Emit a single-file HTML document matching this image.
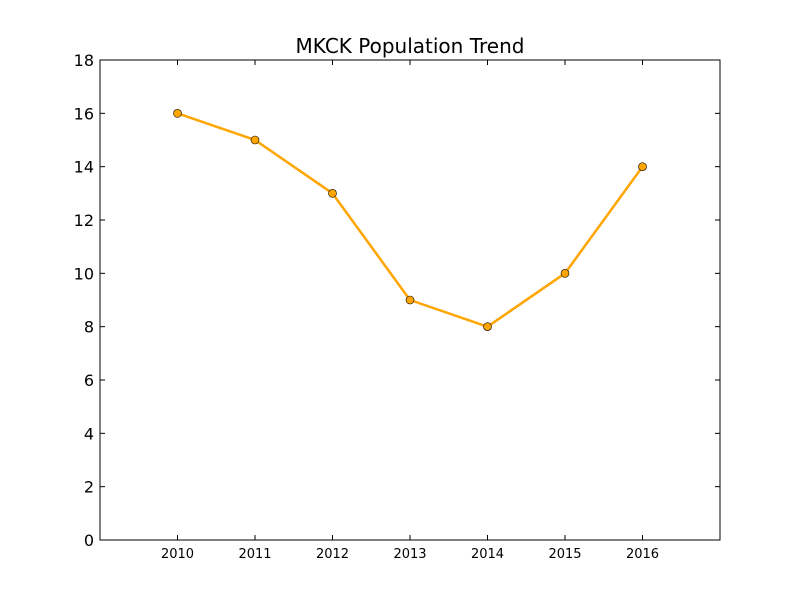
<!DOCTYPE html>
<html><head><meta charset="utf-8"><style>
body{margin:0;background:#fff;}
svg{display:block;font-family:"DejaVu Sans","Liberation Sans",sans-serif;}
</style></head><body>
<svg id="chart" width="800" height="600"></svg>
<script>
const years=[2010,2011,2012,2013,2014,2015,2016];
const population=[16,15,13,9,8,10,14];
const yTicks=[0,2,4,6,8,10,12,14,16,18];
const xTicks=[2010,2011,2012,2013,2014,2015,2016];
const L=100,R=720,T=60,B=540,xMin=2009,xMax=2017,yMin=0,yMax=18;
const xs=v=>L+(v-xMin)/(xMax-xMin)*(R-L);
const ys=v=>B-(v-yMin)/(yMax-yMin)*(B-T);
const svg=document.getElementById('chart');
const NS='http://www.w3.org/2000/svg';
function mk(t,a,txt){const e=document.createElementNS(NS,t);for(const k in a)e.setAttribute(k,a[k]);if(txt!==undefined)e.textContent=txt;svg.appendChild(e);return e;}
const bg=mk('rect',{x:0,y:0,width:800,height:600,fill:'#fff'});


const title=mk('text',{x:410,y:53,'text-anchor':'middle','font-size':20},'MKCK Population Trend');


yTicks.forEach(v=>{
  const y=ys(v);
  const t1=mk('line',{x1:L,x2:L+5,y1:y,y2:y,stroke:'#000'});
  
  
  const t2=mk('line',{x1:R,x2:R-5,y1:y,y2:y,stroke:'#000'});
  
  
  const lb=mk('text',{x:L-6,y:y+6,'text-anchor':'end','font-size':16},v);
  
  
});
xTicks.forEach(v=>{
  const x=xs(v);
  const t1=mk('line',{x1:x,x2:x,y1:B,y2:B-5,stroke:'#000'});
  
  
  const t2=mk('line',{x1:x,x2:x,y1:T,y2:T+5,stroke:'#000'});
  
  
  const lb=mk('text',{x:x,y:B+18,'text-anchor':'middle','font-size':13},v);
  
  
});
const line=mk('polyline',{points:years.map((y,i)=>xs(y)+','+ys(population[i])).join(' '),fill:'none',stroke:'#ffa500','stroke-width':2.5,'stroke-linejoin':'round'});


years.forEach((y,i)=>{
  const c=mk('circle',{cx:xs(y),cy:ys(population[i]),r:4,fill:'#ffa500',stroke:'#000','stroke-width':0.6});
  
  
});
const frame=mk('rect',{x:L,y:T,width:R-L,height:B-T,fill:'none',stroke:'#000','stroke-width':1});


</script>
</body></html>
